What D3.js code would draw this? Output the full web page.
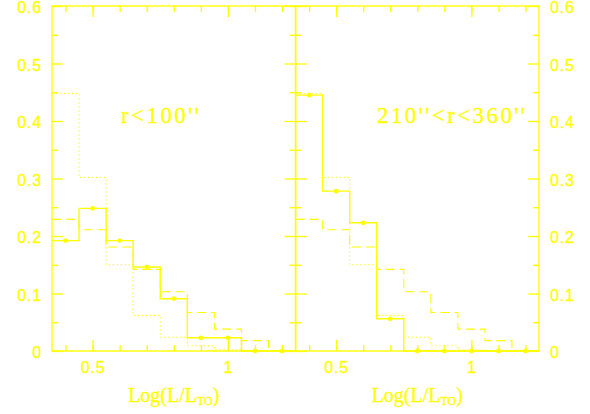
<!DOCTYPE html>
<html><head><meta charset="utf-8">
<script src="https://cdn.jsdelivr.net/npm/d3@7"></script>
<style>html,body{margin:0;padding:0;background:#fff;}svg{display:block;}</style>
</head><body>
<script>
// ---- data ----
const binCenters = [0.4, 0.5, 0.6, 0.7, 0.8, 0.9, 1.0, 1.1, 1.2];
const binWidth = 0.1;
const innerSolid = [0.192, 0.248, 0.192, 0.146, 0.091, 0.023, 0.023, 0, 0];
const outerSolid = [0.445, 0.278, 0.223, 0.056, 0, 0, 0, 0, 0];
const dashedRef = [0.229, 0.211, 0.181, 0.142, 0.103, 0.067, 0.038, 0.018, 0];
const dottedRef = [0.448, 0.302, 0.150, 0.062, 0.024, 0.009, 0.002, 0, 0];
const panelLabels = ["r<100''", "210''<r<360''"];
const xMajorTicks = [0.5, 1.0];
const xMinorTicks = [0.4, 0.5, 0.6, 0.7, 0.8, 0.9, 1.0, 1.1, 1.2];
const yMajorTicks = [0, 0.1, 0.2, 0.3, 0.4, 0.5, 0.6];
const yMinorTicks = [0.05, 0.15, 0.25, 0.35, 0.45, 0.55];
const xDomain = [0.35, 1.25];
const yDomain = [0, 0.6];

const W = 590, H = 414;
const col = "#ffff00";
const svg = d3.select("body").append("svg").attr("width", W).attr("height", H);

const y = d3.scaleLinear().domain(yDomain).range([351, 6]);
const panels = [
  {x: d3.scaleLinear().domain(xDomain).range([52, 295.6]), solid: innerSolid, label: panelLabels[0], lx: 121, lw: 78, leftLabels: true},
  {x: d3.scaleLinear().domain(xDomain).range([295.6, 539]), solid: outerSolid, label: panelLabels[1], lx: 377, lw: 148, leftLabels: false}
];

const fmtY = d => d === 0 ? "0" : d3.format(".1f")(d);
const fmtX = d => d === 1 ? "1" : d3.format(".1f")(d);

function stepPoints(vals) {
  const pts = [];
  vals.forEach((v, i) => {
    pts.push([binCenters[i] - binWidth / 2, v]);
    pts.push([binCenters[i] + binWidth / 2, v]);
  });
  return pts;
}

function styleAxis(g) {
  g.select(".domain").remove();
  g.selectAll(".tick line").attr("stroke", col).attr("stroke-width", 1.3);
  g.selectAll(".tick text").attr("fill", col).attr("font-family", "Liberation Sans, Arial, sans-serif")
    .attr("font-size", 16).attr("letter-spacing", "0.8px")
    .attr("stroke", col).attr("stroke-width", 0.3);
}

panels.forEach((p, pi) => {
  const x = p.x;
  const [x0, x1] = x.range();
  const g = svg.append("g");

  // histograms
  const line = d3.line().x(d => x(d[0])).y(d => y(d[1]));
  g.append("path").attr("d", line(stepPoints(dottedRef))).attr("fill", "none")
    .attr("stroke", col).attr("stroke-width", 1).attr("stroke-dasharray", "1.3,2.7");
  g.append("path").attr("d", line(stepPoints(dashedRef))).attr("fill", "none")
    .attr("stroke", col).attr("stroke-width", 1.1).attr("stroke-dasharray", "9,5");
  g.append("path").attr("d", line(stepPoints(p.solid))).attr("fill", "none")
    .attr("stroke", col).attr("stroke-width", 1.4);
  g.selectAll("circle").data(p.solid).join("circle")
    .attr("cx", (d, i) => x(binCenters[i])).attr("cy", d => y(d)).attr("r", 2.4).attr("fill", col);

  // frame
  g.append("rect").attr("x", x0).attr("y", y(0.6)).attr("width", x1 - x0).attr("height", y(0) - y(0.6))
    .attr("fill", "none").attr("stroke", col).attr("stroke-width", 1.4);

  // bottom axis (major with labels)
  const bMaj = g.append("g").attr("transform", `translate(0,${y(0)})`)
    .call(d3.axisBottom(x).tickValues(xMajorTicks).tickSize(-11).tickPadding(22).tickFormat(fmtX));
  styleAxis(bMaj);
  bMaj.selectAll(".tick text").attr("dy", "0em");
  const bMin = g.append("g").attr("transform", `translate(0,${y(0)})`)
    .call(d3.axisBottom(x).tickValues(xMinorTicks).tickSize(-6).tickFormat(""));
  styleAxis(bMin);
  // top axis
  const tMaj = g.append("g").attr("transform", `translate(0,${y(0.6)})`)
    .call(d3.axisTop(x).tickValues(xMajorTicks).tickSize(-11).tickFormat(""));
  styleAxis(tMaj);
  const tMin = g.append("g").attr("transform", `translate(0,${y(0.6)})`)
    .call(d3.axisTop(x).tickValues(xMinorTicks).tickSize(-6).tickFormat(""));
  styleAxis(tMin);

  // left axis
  const lMaj = g.append("g").attr("transform", `translate(${x0},0)`)
    .call(d3.axisLeft(y).tickValues(yMajorTicks).tickSize(-11).tickPadding(10)
      .tickFormat(p.leftLabels ? fmtY : ""));
  styleAxis(lMaj);
  lMaj.selectAll(".tick text").attr("dy", "0.42em");
  const lMin = g.append("g").attr("transform", `translate(${x0},0)`)
    .call(d3.axisLeft(y).tickValues(yMinorTicks).tickSize(-6).tickFormat(""));
  styleAxis(lMin);
  // right axis
  const rMaj = g.append("g").attr("transform", `translate(${x1},0)`)
    .call(d3.axisRight(y).tickValues(yMajorTicks).tickSize(-11).tickPadding(11)
      .tickFormat(p.leftLabels ? "" : fmtY));
  styleAxis(rMaj);
  rMaj.selectAll(".tick text").attr("dy", "0.42em");
  const rMin = g.append("g").attr("transform", `translate(${x1},0)`)
    .call(d3.axisRight(y).tickValues(yMinorTicks).tickSize(-6).tickFormat(""));
  styleAxis(rMin);

  // panel label
  g.append("text").attr("x", p.lx).attr("y", 122.5).text(p.label)
    .attr("fill", col).attr("stroke", col).attr("stroke-width", 0.3)
    .attr("font-family", "Liberation Serif, Times New Roman, serif").attr("font-size", 23)
    .attr("textLength", p.lw).attr("lengthAdjust", "spacing");

  // x-axis title
  const t = g.append("text").attr("x", (x0 + x1) / 2).attr("y", 402).attr("text-anchor", "middle")
    .attr("fill", col).attr("stroke", col).attr("stroke-width", 0.3)
    .attr("font-family", "Liberation Serif, Times New Roman, serif").attr("font-size", 20);
  t.append("tspan").text("Log(L/L");
  t.append("tspan").text("TO").attr("font-size", 12).attr("dy", 3);
  t.append("tspan").text(")").attr("dy", -3);
});
</script>
</body></html>
